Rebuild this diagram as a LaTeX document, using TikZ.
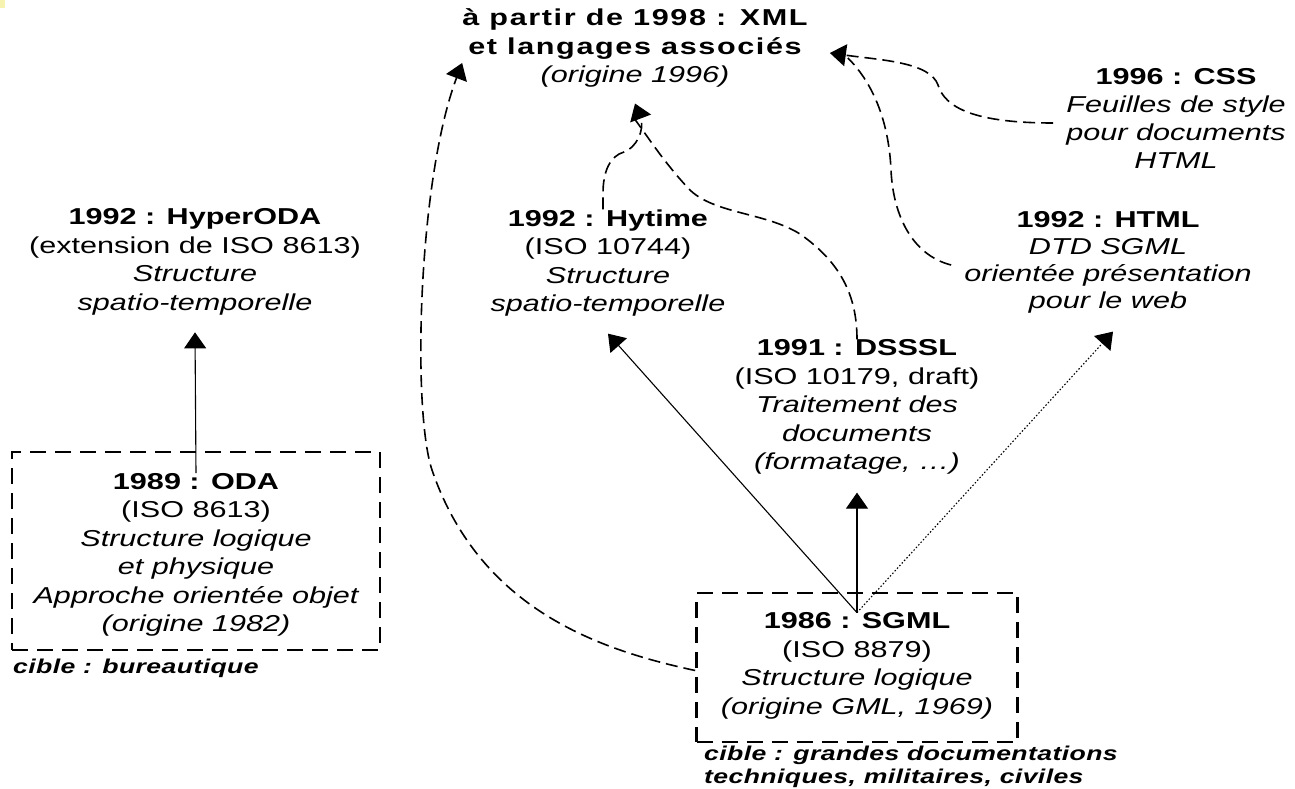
\documentclass[tikz,border=0pt]{standalone}
\usepackage{fontspec}
\setmainfont{Liberation Sans}[FakeStretch=1.33]
\newfontfamily\titlefont{Liberation Sans}[FakeStretch=1.33,LetterSpace=7]
\newfontfamily\targetfont{Liberation Sans}[FakeStretch=1.33,LetterSpace=2]
\usetikzlibrary{arrows.meta,calc}
\definecolor{cornermark}{RGB}{246,242,175}

\begin{document}
\begin{tikzpicture}[x=1pt,y=-1pt,
  every node/.style={font=\fontsize{23}{28.5}\selectfont, align=center, inner sep=0pt},
  link/.style={line width=1.1pt},
  tip/.style={-{Triangle[length=16pt,width=22pt]}},
  dashlink/.style={line width=1.6pt, dash pattern=on 12pt off 6pt},
  framebox/.style={draw, line width=2.7pt, dash pattern=on 16pt off 9pt},
  dotlink/.style={line width=1.1pt, dash pattern=on 1.5pt off 2pt},
  target/.style={font={\targetfont\fontsize{20}{22.5}\selectfont\bfseries\itshape}, align=left},
]
\fill[white] (0,0) rectangle (1295,789);
\path[use as bounding box] (0,0) rectangle (1295,789);
\fill[cornermark] (0,0) rectangle (5,8);

% standards
\node (xml) at (635,48) {{\titlefont\bfseries à partir de 1998 : XML}\\{\titlefont\bfseries et langages associés}\\{\itshape (origine 1996)}};
\node[font=\fontsize{23}{27.7}\selectfont] (css) at (1176,118.5) {{\bfseries 1996 : CSS}\\{\itshape Feuilles de style}\\{\itshape pour documents}\\{\itshape HTML}};
\node[font=\fontsize{23}{27}\selectfont] (html) at (1108,262.5) {{\bfseries 1992 : HTML}\\{\itshape DTD SGML}\\{\itshape orientée présentation}\\{\itshape pour le web}};
\node (hyperoda) at (195,262) {{\bfseries 1992 : HyperODA}\\(extension de ISO 8613)\\{\itshape Structure}\\{\itshape spatio-temporelle}};
\node (hytime) at (608,263) {{\bfseries 1992 : Hytime}\\(ISO 10744)\\{\itshape Structure}\\{\itshape spatio-temporelle}};
\node (dsssl) at (857,407) {{\bfseries 1991 : DSSSL}\\(ISO 10179, draft)\\{\itshape Traitement des}\\{\itshape documents}\\{\itshape (formatage, \ldots)}};

\node[framebox, minimum width=368pt, minimum height=198pt] (odabox) at (196,551) {};
\node (oda) at (196,555) {{\bfseries 1989 : ODA}\\(ISO 8613)\\{\itshape Structure logique}\\{\itshape et physique}\\{\itshape Approche orientée objet}\\{\itshape (origine 1982)}};
\node[target, anchor=west] (odatarget) at (13,668) {cible : bureautique};

\node[framebox, minimum width=321pt, minimum height=149pt] (sgmlbox) at (857,667.5) {};
\node (sgml) at (857,666) {{\bfseries 1986 : SGML}\\(ISO 8879)\\{\itshape Structure logique}\\{\itshape (origine GML, 1969)}};
\node[target, anchor=north west] (sgmltarget) at (704,746) {cible : grandes documentations\\techniques, militaires, civiles};

% derivations
\draw[link, tip] (oda.north) -- ([yshift=-17pt]hyperoda.south);
\draw[link, tip] (sgml.north) -- ([yshift=-17pt]hytime.south);
\draw[link, tip] (sgml.north) -- ([yshift=-18pt]dsssl.south);
\draw[dotlink, tip] (sgml.north) -- ([shift={(5pt,-18pt)}]html.south);

% influences on XML
\draw[dashlink, tip] ([xshift=-5pt]hytime.north) -- ++(0,-16) .. controls +(0,-22) and (610,156) .. (624,152) .. controls (636,148) and (645,130) .. ([yshift=-16pt]xml.south);
\draw[dashlink] (dsssl.north) .. controls (857,295) and (840,262) .. (800,234) .. controls (765,212) and (712,214) .. (688,188) .. controls (664,162) and (650,140) .. ([yshift=-32pt]xml.south);
\draw[dashlink, tip] ([yshift=-3pt]sgmlbox.west) .. controls (600,650) and (480,610) .. (432,470) .. controls (412,410) and (418,180) .. ([yshift=-15pt]xml.west);
\draw[dashlink, tip] ([shift={(-13pt,-4.5pt)}]css.west) .. controls (975,123) and (945,108) .. (938,85) .. controls (930,62) and (880,60) .. ([shift={(22pt,-5pt)}]xml.east);
\draw[dashlink] ([shift={(-13pt,-2.5pt)}]html.west) .. controls (912,255) and (893,215) .. (891,170) .. controls (889,125) and (875,85) .. ([shift={(40pt,-10pt)}]xml.east);
\end{tikzpicture}
\end{document}
